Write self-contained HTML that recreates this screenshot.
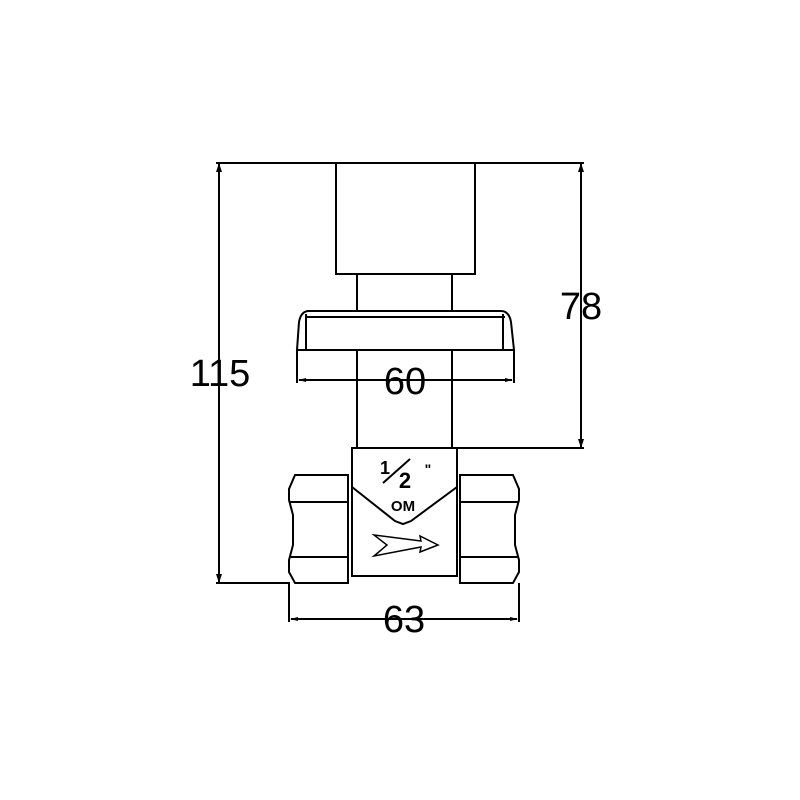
<!DOCTYPE html>
<html><head><style>html,body{margin:0;padding:0;background:#fff}svg{display:block}</style></head>
<body>
<svg width="800" height="800" viewBox="0 0 800 800" xmlns="http://www.w3.org/2000/svg">
<rect width="800" height="800" fill="#fff"/>
<g fill="none" stroke="#000" stroke-width="2">
<line x1="216" y1="163" x2="584" y2="163"/>
<line x1="216" y1="583" x2="290" y2="583"/>
<line x1="458" y1="448" x2="584" y2="448"/>
<line x1="219" y1="163" x2="219" y2="583"/>
<line x1="581" y1="163" x2="581" y2="448"/>
<rect x="336" y="163" width="139" height="111"/>
<line x1="357" y1="274" x2="357" y2="311"/>
<line x1="452" y1="274" x2="452" y2="311"/>
<path d="M297,350 L299,322 Q301,311 309,311 L501,311 Q509,311 511,322 L514,350 Z"/>
<line x1="305" y1="317" x2="505" y2="317"/>
<line x1="306" y1="314" x2="306" y2="350"/>
<line x1="503" y1="314" x2="503" y2="350"/>
<line x1="297" y1="350" x2="297" y2="383"/>
<line x1="514" y1="350" x2="514" y2="383"/>
<line x1="299" y1="380" x2="512" y2="380"/>
<line x1="357" y1="350" x2="357" y2="448"/>
<line x1="452" y1="350" x2="452" y2="448"/>
<rect x="352" y="448" width="105" height="128"/>
<polyline points="352,487 395,521 403,524 411,521 457,487"/>
<path d="M295,475 L348,475 L348,583 L295,583 L289,572 L289,560 L293,545 L293,515 L289,500 L289,489 Z"/>
<line x1="290" y1="502" x2="348" y2="502"/>
<line x1="290" y1="557" x2="348" y2="557"/>
<path d="M460,475 L513,475 L519,489 L519,500 L515,515 L515,545 L519,560 L519,572 L513,583 L460,583 Z"/>
<line x1="460" y1="502" x2="518" y2="502"/>
<line x1="460" y1="557" x2="518" y2="557"/>
<line x1="289" y1="583" x2="289" y2="622"/>
<line x1="519" y1="583" x2="519" y2="622"/>
<line x1="291" y1="619" x2="517" y2="619"/>
<polygon stroke-width="1.5" points="374,535 421,541 420,536 438,545 420,552 421,547 374,556 387,545"/>
<line x1="383" y1="483" x2="410" y2="459" stroke-width="2"/>
</g>
<g fill="#000">
<polygon points="219,163 216,172 222,172"/>
<polygon points="219,583 216,574 222,574"/>
<polygon points="581,163 578,172 584,172"/>
<polygon points="581,448 578,439 584,439"/>
<polygon points="298,380 306,378 306,382"/>
<polygon points="513,380 505,378 505,382"/>
<polygon points="290,619 298,617 298,621"/>
<polygon points="518,619 510,617 510,621"/>
</g>
<g font-family="Liberation Sans, sans-serif" fill="#000">
<text x="220" y="386" font-size="38" text-anchor="middle">115</text>
<text x="581" y="319" font-size="38" text-anchor="middle">78</text>
<text x="405" y="394" font-size="38" text-anchor="middle">60</text>
<text x="404" y="632" font-size="38" text-anchor="middle">63</text>
<text x="385" y="474" font-size="18" font-weight="bold" text-anchor="middle">1</text>
<text x="405" y="488" font-size="22" font-weight="bold" text-anchor="middle">2</text>
<text x="428" y="474" font-size="14" font-weight="bold" text-anchor="middle">"</text>
<text x="403" y="511" font-size="15" font-weight="bold" text-anchor="middle">OM</text>
</g>
</svg>
</body></html>
